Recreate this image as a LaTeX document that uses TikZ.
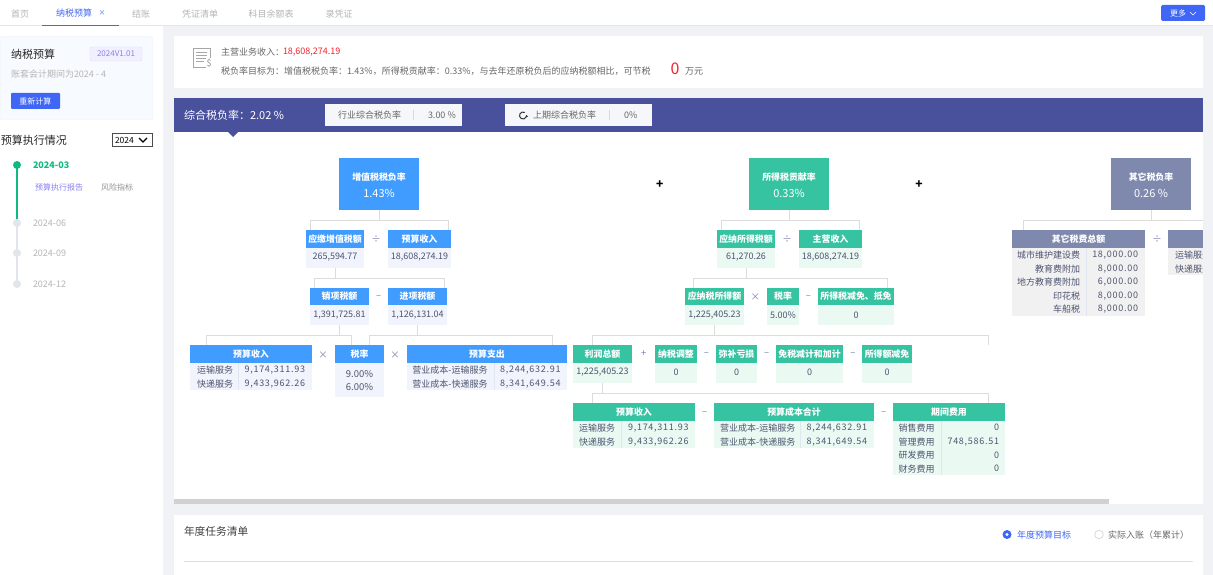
\documentclass[tikz,border=0pt]{standalone}
\usepackage{fontspec}
\setmainfont{Noto Sans CJK SC}
\newfontfamily\tnum[LetterSpace=8]{Noto Sans CJK SC}
\usetikzlibrary{calc,arrows.meta}
\definecolor{pagebg}{HTML}{F0F2F6}
\definecolor{accent}{HTML}{3F66F5}
\definecolor{hdblue}{HTML}{409CFF}
\definecolor{bdblue}{HTML}{F1F4FC}
\definecolor{hdgreen}{HTML}{36C3A2}
\definecolor{bdgreen}{HTML}{EBF9F3}
\definecolor{hdgray}{HTML}{7F89AE}
\definecolor{bdgray}{HTML}{F1F1F1}
\definecolor{bar}{HTML}{4A519C}
\definecolor{valc}{HTML}{4E5470}
\definecolor{opc}{HTML}{7A80B0}
\definecolor{muted}{HTML}{B5B5B5}
\definecolor{txt}{HTML}{666666}
\definecolor{violet}{HTML}{8A80F0}
\definecolor{conc}{HTML}{DCDCDC}
\definecolor{tlgreen}{HTML}{10B981}
\definecolor{tlgray}{HTML}{E2E5EE}
\definecolor{redn}{HTML}{F5222D}
\definecolor{cardfill}{HTML}{F7FBFF}
\definecolor{cardline}{HTML}{E6F0FC}
\definecolor{divc}{HTML}{E1E7F0}
\newcounter{lblc}
\tikzset{
  x=1pt,y=-1pt,
  lbl/.style={inner sep=0,outer sep=0,font=\fontsize{9}{10}\selectfont,text=valc},
  west/.style={lbl,anchor=west},
  east/.style={lbl,anchor=east},
  plate/.style={inner sep=0,outer sep=0,anchor=north west},
  hdtext/.style={lbl,text=white,font=\fontsize{8.9}{10}\bfseries\selectfont},
  bigval/.style={lbl,text=white,font=\fontsize{11}{12}\selectfont},
  conn/.style={draw=conc,line width=1pt},
  opr/.style={lbl,text=opc,font=\fontsize{9.5}{10}\selectfont},
  tab/.style={lbl,text=muted},
  tabnum/.style={lbl,font=\fontsize{9}{10}\selectfont\tnum},
  cdiv/.style={draw=divc,line width=.7pt},
}
% auto-named text node: \lb[style]{x}{y}{text}
\newcommand{\lb}[4][lbl]{\stepcounter{lblc}\node[#1] (t\arabic{lblc}) at (#2,#3) {#4};}
% plate: name x0 y0 x1 y1 fill
\newcommand{\plate}[6]{%
  \pgfmathsetmacro{\pw}{#4-#2}\pgfmathsetmacro{\ph}{#5-#3}%
  \node[plate,fill=#6,minimum width=\pw pt,minimum height=\ph pt] (#1) at (#2,#3) {};}
% card: name x0 y0 x1 y1 header-height theme title
\newcommand{\card}[8]{%
  \plate{#1}{#2}{#3}{#4}{#5}{bd#7}%
  \pgfmathsetmacro{\py}{#3+#6}%
  \plate{#1h}{#2}{#3}{#4}{\py}{hd#7}%
  \node[hdtext] (#1t) at (#1h.center) {#8};}
% elbow connector: parent, child, x offset on child's top edge
\newcommand{\elbow}[3]{\draw[conn] (#1.south) -- ++(0,10) -| ([xshift=#3pt]#2.north west);}
\begin{document}
\begin{tikzpicture}
\useasboundingbox (0,0) rectangle (1213,575);
\plate{bgall}{0}{0}{1213}{575}{pagebg}
% top bar
\plate{topbar}{0}{0}{1213}{25}{white}
\plate{topline}{0}{25}{1213}{26}{black!10}
\plate{tabline}{42}{25}{119}{26}{accent}
\lb[tab]{20}{14}{首页}
\lb[lbl,text=accent]{74}{13}{纳税预算}
\lb[lbl,text=accent,font=\fontsize{7}{8}\selectfont]{102}{13}{×}
\lb[tab]{141}{14}{结账}
\lb[tab]{200}{14}{凭证清单}
\lb[tab]{271}{14}{科目余额表}
\lb[tab]{339}{14}{录凭证}
\node[plate,fill=accent,rounded corners=1.5pt,minimum width=44pt,minimum height=16pt] (morebtn) at (1161,5) {};
\lb[lbl,text=white,font=\fontsize{8}{9}\selectfont]{1178}{13}{更多}
\draw[white,line width=.6pt] (1190,12) -- (1193,15) -- (1196,12);
% left column
\plate{leftcol}{0}{26}{163}{575}{white}
\node[plate,fill=cardfill,draw=cardline,rounded corners=1.5pt,minimum width=152pt,minimum height=83pt] (lcard) at (0.5,36.5) {};
\lb[west,text=black!85,font=\fontsize{11}{12}\selectfont]{11}{54}{纳税预算}
\node[plate,fill=blue!6,draw=blue!15,rounded corners=1.5pt,minimum width=52pt,minimum height=14pt] (badge) at (90,47) {};
\node[lbl,text=violet,font=\fontsize{8}{9}\selectfont] (badget) at (badge.center) {2024V1.01};
\lb[west,text=muted]{11}{74}{账套会计期间为2024 - 4}
\node[plate,fill=accent,rounded corners=1pt,minimum width=49pt,minimum height=16pt] (recalc) at (11,93) {};
\node[lbl,text=white,font=\fontsize{8}{9}\selectfont] (recalct) at (recalc.center) {重新计算};
\lb[west,text=black!85,font=\fontsize{11}{12}\selectfont]{1}{140}{预算执行情况}
\node[plate,draw=black!70,line width=.7pt,minimum width=40pt,minimum height=13pt] (sel) at (112.5,133.5) {};
\lb[west,text=black,font=\fontsize{8.5}{9}\selectfont]{115}{140}{2024}
\draw[black,line width=1.4pt] (139,138) -- (143,142) -- (147,138);
% timeline
\coordinate (d0) at (17,165);
\coordinate (d1) at (17,223);
\coordinate (d2) at (17,253);
\coordinate (d3) at (17,284);
\draw[draw=tlgray,line width=1.2pt] (d1) -- (d3);
\draw[draw=tlgreen,line width=1.2pt] (d0) -- (d1);
\fill[tlgreen] (d0) circle (4pt);
\fill[tlgray] (d1) circle (4pt);
\fill[tlgray] (d2) circle (4pt);
\fill[tlgray] (d3) circle (4pt);
\lb[west,text=tlgreen,font=\fontsize{9}{10}\bfseries\selectfont]{33}{165.5}{2024-03}
\lb[west,text=violet,font=\fontsize{8}{9}\selectfont]{35}{187}{预算执行报告}
\lb[west,text=txt!70,font=\fontsize{8}{9}\selectfont]{101}{187}{风险指标}
\lb[west,text=muted]{33}{223}{2024-06}
\lb[west,text=muted]{33}{253.5}{2024-09}
\lb[west,text=muted]{33}{284.5}{2024-12}
% summary card
\plate{sumcard}{174}{36}{1203}{88}{white}
\draw[black!35,line width=.8pt] (193,48) rectangle (210,67);
\draw[black!35,line width=.8pt] (196,52) -- (207,52) (196,55) -- (207,55) (196,58) -- (207,58) (196,61) -- (204,61);
\node[fill=white,inner sep=.3pt,text=black!45,font=\fontsize{9}{10}\selectfont] (dollar) at (209,63) {\$};
\lb[west,text=txt]{221}{52.5}{主营业务收入：}
\lb[west,text=redn]{283}{52.5}{18,608,274.19}
\lb[west,text=txt]{221}{71}{税负率目标为：增值税税负率：1.43\%，所得税贡献率：0.33\%，与去年还原税负后的应纳税额相比，可节税}
\lb[lbl,text=redn,font=\fontsize{16}{17}\selectfont]{675}{69}{0}
\lb[west,text=txt]{685}{71}{万元}
% tree panel
\plate{treepanel}{174}{132}{1203}{504}{white}
\plate{purple}{174}{98}{1203}{132}{bar}
\fill[bar] (228,132) -- (238,132) -- (233,137) -- cycle;
\lb[west,text=white,font=\fontsize{11}{12}\selectfont]{184}{115}{综合税负率：2.02 \%}
\node[plate,fill=pagebg!60,minimum width=137pt,minimum height=22pt] (ind) at (325,104) {};
\lb[west,text=txt]{338}{115.5}{行业综合税负率}
\draw[black!15] (413,110) -- (413,120);
\lb[west,text=txt]{428}{115.5}{3.00 \%}
\node[plate,fill=pagebg!60,minimum width=147pt,minimum height=22pt] (prev) at (505,104) {};
\draw[draw=black!80,line width=1pt,-{Latex[length=2pt,width=3pt]}] (524.75,112.47) arc (60:370:3.5pt);
\lb[west,text=txt]{533}{115.5}{上期综合税负率}
\draw[black!15] (609,110) -- (609,120);
\lb[west,text=txt]{624}{115.5}{0\%}
% VAT branch
\plate{vat}{339}{158}{419}{210}{hdblue}
\lb[hdtext]{379}{177}{增值税税负率}
\lb[bigval]{379}{193}{1.43\%}
\card{vatdue}{306}{230}{364}{268}{18}{blue}{应缴增值税额}
\lb{335}{257}{265,594.77}
\card{vatrev}{388}{230}{451}{268}{18}{blue}{预算收入}
\lb{419.5}{257}{18,608,274.19}
\lb[opr]{376}{239}{÷}
\card{outtax}{310}{288}{369}{325}{17}{blue}{销项税额}
\lb{339.5}{315}{1,391,725.81}
\card{intax}{388}{288}{447}{325}{17}{blue}{进项税额}
\lb{417.5}{315}{1,126,131.04}
\lb[opr]{378.7}{297}{–}
\card{brev}{190}{345}{312}{390}{18}{blue}{预算收入}
\lb{215}{370}{运输服务}
\lb{215}{384}{快递服务}
\lb[east,tabnum]{305}{370}{9,174,311.93}
\lb[east,tabnum]{305}{384}{9,433,962.26}
\draw[cdiv] (238.3,363) -- (238.3,390);
\lb[opr]{323}{355}{×}
\card{rate}{335}{345}{384}{397}{18}{blue}{税率}
\lb[lbl,font=\fontsize{9.5}{10}\selectfont]{359.5}{374}{9.00\%}
\lb[lbl,font=\fontsize{9.5}{10}\selectfont]{359.5}{387}{6.00\%}
\lb[opr]{395}{355}{×}
\card{bexp}{407}{345}{567}{390}{18}{blue}{预算支出}
\lb{450}{370}{营业成本-运输服务}
\lb{450}{384}{营业成本-快递服务}
\lb[east,tabnum]{560.5}{370}{8,244,632.91}
\lb[east,tabnum]{560.5}{384}{8,341,649.54}
\draw[cdiv] (494.3,363) -- (494.3,390);
\elbow{vat}{vatdue}{4}
\elbow{vat}{vatrev}{60}
\elbow{vatdue}{outtax}{4}
\elbow{vatdue}{intax}{56}
\elbow{outtax}{brev}{16}
\elbow{outtax}{rate}{16}
\elbow{intax}{rate}{34}
\elbow{intax}{bexp}{145}
% income tax branch
\plate{cit}{749}{158}{829}{210}{hdgreen}
\lb[hdtext]{789}{177}{所得税贡献率}
\lb[bigval]{789}{193}{0.33\%}
\card{citdue}{717}{230}{775}{268}{18}{green}{应纳所得税额}
\lb{746}{257}{61,270.26}
\card{mainrev}{799}{230}{862}{268}{18}{green}{主营收入}
\lb{830.5}{257}{18,608,274.19}
\lb[opr]{787}{239}{÷}
\card{taxable}{685}{288}{744}{325}{17}{green}{应纳税所得额}
\lb{714.5}{315}{1,225,405.23}
\lb[opr]{755.3}{297}{×}
\card{citrate}{767}{288}{799}{325}{17}{green}{税率}
\lb{783}{315}{5.00\%}
\lb[opr]{808.3}{297}{–}
\card{relief}{818}{288}{894}{325}{17}{green}{所得税减免、抵免}
\lb{856}{315}{0}
\card{profit}{573}{345}{632}{383}{18}{green}{利润总额}
\lb{602.5}{372}{1,225,405.23}
\lb[opr]{643.7}{354}{+}
\card{adj}{655}{345}{697}{383}{18}{green}{纳税调整}
\lb{676}{372}{0}
\lb[opr]{706.3}{354}{–}
\card{loss}{716}{345}{757}{383}{18}{green}{弥补亏损}
\lb{736.5}{372}{0}
\lb[opr]{766.7}{354}{–}
\card{exempt}{776}{345}{843}{383}{18}{green}{免税减计和加计}
\lb{809.5}{372}{0}
\lb[opr]{853}{354}{–}
\card{deduct}{862}{345}{912}{383}{18}{green}{所得额减免}
\lb{887}{372}{0}
\coordinate (taxableend) at (988.3,345);
\card{grev}{573}{403}{695}{448}{18}{green}{预算收入}
\lb{597}{427.7}{运输服务}
\lb{597}{441.7}{快递服务}
\lb[east,tabnum]{688.5}{427.7}{9,174,311.93}
\lb[east,tabnum]{688.5}{441.7}{9,433,962.26}
\draw[cdiv] (621.7,421) -- (621.7,448);
\lb[opr]{704.7}{413}{–}
\card{gcost}{714}{403}{874}{448}{18}{green}{预算成本合计}
\lb{757.7}{427.7}{营业成本-运输服务}
\lb{757.7}{441.7}{营业成本-快递服务}
\lb[east,tabnum]{867}{427.7}{8,244,632.91}
\lb[east,tabnum]{867}{441.7}{8,341,649.54}
\draw[cdiv] (800.7,421) -- (800.7,448);
\lb[opr]{883.7}{413}{–}
\card{period}{893}{403}{1005}{475}{18}{green}{期间费用}
\lb{916.7}{427.7}{销售费用}
\lb{916.7}{441.7}{管理费用}
\lb{916.7}{455}{研发费用}
\lb{916.7}{468.7}{财务费用}
\lb[east,tabnum]{999}{427.7}{0}
\lb[east,tabnum]{999}{441.7}{748,586.51}
\lb[east,tabnum]{999}{455}{0}
\lb[east,tabnum]{999}{468.7}{0}
\draw[cdiv] (941.7,421) -- (941.7,475);
\elbow{cit}{citdue}{4}
\elbow{cit}{mainrev}{60}
\elbow{citdue}{taxable}{8}
\elbow{citdue}{relief}{69}
\elbow{taxable}{profit}{19}
\draw[conn] (taxable.south) -- ++(0,10) -| (taxableend);
\elbow{profit}{grev}{19}
\elbow{profit}{period}{95}
\lb[lbl,text=black,font=\fontsize{12}{13}\bfseries\selectfont]{659.7}{185}{+}
\lb[lbl,text=black,font=\fontsize{12}{13}\bfseries\selectfont]{919}{185}{+}
% other taxes branch
\plate{other}{1111}{158}{1191}{210}{hdgray}
\lb[hdtext]{1151}{177}{其它税负率}
\lb[bigval]{1151}{193}{0.26 \%}
\card{othertotal}{1012}{230}{1145}{316}{18}{gray}{其它税费总额}
\lb[east]{1080}{255}{城市维护建设费}
\lb[east]{1080}{269}{教育费附加}
\lb[east]{1080}{282}{地方教育费附加}
\lb[east]{1080}{296}{印花税}
\lb[east]{1080}{309}{车船税}
\lb[east,tabnum]{1138}{255}{18,000.00}
\lb[east,tabnum]{1138}{269}{8,000.00}
\lb[east,tabnum]{1138}{282}{6,000.00}
\lb[east,tabnum]{1138}{296}{8,000.00}
\lb[east,tabnum]{1138}{309}{8,000.00}
\draw[cdiv] (1086.7,248) -- (1086.7,316);
\lb[opr]{1157}{239}{÷}
\card{otherrev}{1168}{230}{1290}{275}{18}{gray}{}
\lb[west]{1175}{255}{运输服务}
\lb[west]{1175}{269}{快递服务}
\coordinate (otherend) at (1213,220);
\elbow{other}{othertotal}{11}
\draw[conn] (other.south) -- ++(0,10) -| (otherend);
% scrollbar
\plate{scroll}{174}{499}{1109}{504}{black!18}
% right margin covers what overflows the panel
\plate{rightstrip}{1203}{26}{1213}{575}{pagebg}
% bottom panel
\plate{bottom}{174}{515}{1203}{575}{white}
\lb[west,text=black!75,font=\fontsize{10.7}{12}\selectfont]{184}{531}{年度任务清单}
\coordinate (ruleL) at (184,561);
\coordinate (ruleR) at (1193,561);
\draw[black!13,line width=.8pt] (ruleL) -- (ruleR);
\fill[accent] (1007,534.5) circle (4.5pt);
\fill[white] (1007,534.5) circle (1.7pt);
\lb[west,text=accent]{1017}{535}{年度预算目标}
\draw[black!15,line width=.8pt] (1099,534.5) circle (4.3pt);
\lb[west,text=txt]{1108}{535}{实际入账（年累计）}
\end{tikzpicture}
\end{document}
